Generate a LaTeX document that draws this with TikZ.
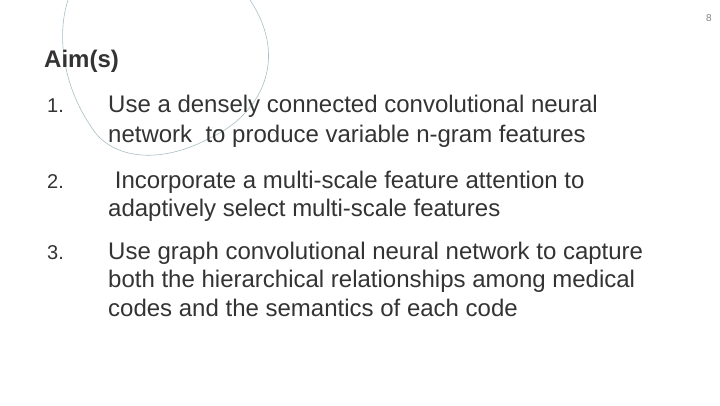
\documentclass[tikz,border=0pt]{standalone}
\usepackage{fontspec}
\setmainfont{Liberation Sans}
\definecolor{txt}{HTML}{333333}
\definecolor{curve}{HTML}{A8BEC4}
\begin{document}
\begin{tikzpicture}[x=1pt,y=-1pt,
  body/.style={anchor=base west,text=txt,font=\fontsize{24}{24}\selectfont,inner sep=0pt},
  num/.style={anchor=base west,text=txt,font=\fontsize{20}{20}\selectfont,inner sep=0pt}]
\useasboundingbox (0,0) rectangle (720,405);
\draw[curve,line width=0.6pt] (68,0) .. controls (58,30) and (60,80) .. (90,125)
  .. controls (110,160) and (160,165) .. (210,138)
  .. controls (260,115) and (290,60) .. (250,0);
\node[anchor=east,text=gray,font=\fontsize{10}{10}\selectfont,inner sep=0pt] (pg) at (712,18) {8};
\node[anchor=base west,text=txt,font=\bfseries\fontsize{24}{24}\selectfont,inner sep=0pt] (t) at (44,67) {Aim(s)};
\node[num] (n1) at (47,112) {1.};
\node[body] (a1) at (108,112) {Use a densely connected convolutional neural};
\node[body] (a1b) at (108,142) {network\ \ to produce variable n-gram features};
\node[num] (n2) at (47,188) {2.};
\node[body] (a2) at (108,188) {\ Incorporate a multi-scale feature attention to};
\node[body] (a2b) at (108,216) {adaptively select multi-scale features};
\node[num] (n3) at (47,259) {3.};
\node[body] (a3) at (108,259) {Use graph convolutional neural network to capture};
\node[body] (a3b) at (108,287) {both the hierarchical relationships among medical};
\node[body] (a3c) at (108,316) {codes and the semantics of each code};
\end{tikzpicture}
\end{document}
